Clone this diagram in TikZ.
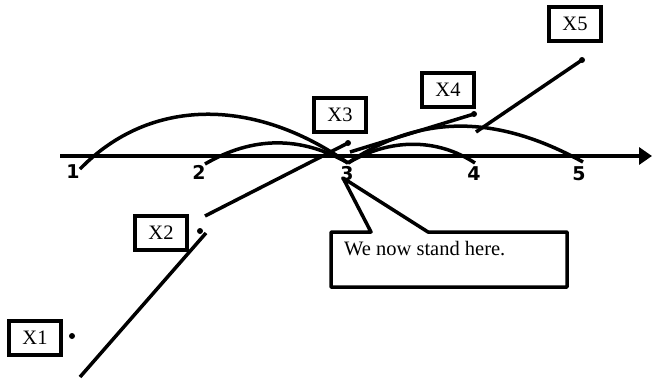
\documentclass[tikz,border=0pt]{standalone}
\usepackage{fontspec}
\setmainfont{Liberation Serif}
\newfontfamily\ticksans{DejaVu Sans}
\usetikzlibrary{arrows.meta}
\begin{document}
\begin{tikzpicture}[x=1pt,y=-1pt,
  lbox/.style={draw,line width=4pt,minimum width=52pt,minimum height=34pt,inner sep=0pt,font=\fontsize{20.5}{20.5}\selectfont},
  tick/.style={font=\ticksans\bfseries\fontsize{19}{19}\selectfont,inner sep=0pt},
  curve/.style={line width=3.5pt},
  seg/.style={line width=3.5pt},
  pt/.style={circle,fill,inner sep=0pt,minimum size=6pt}]
\useasboundingbox (0,0) rectangle (652,381);
% axis
\coordinate (a0) at (60,156);
\coordinate (a1) at (652,156);
\draw[line width=3.5pt,-{Triangle[length=13pt,width=17pt]}] (a0) -- (a1);
% tick labels
\node[tick] (t1) at (73,172) {1};
\node[tick] (t2) at (199,172) {2};
\node[tick] (t3) at (347,174) {3};
\node[tick] (t4) at (474,174) {4};
\node[tick] (t5) at (579,174) {5};
% curves
\coordinate (c1) at (80,169);
\coordinate (c2) at (205,164);
\coordinate (c3) at (348,163);
\coordinate (c4) at (475,163);
\coordinate (c5) at (583,162);
\draw[curve] (c1) .. controls (150,97) and (254,97) .. (c3);
\draw[curve] (c2) .. controls (253,136) and (301,136) .. (c3);
\draw[curve] (c3) .. controls (390,138) and (437,138) .. (c4);
\draw[curve] (c3) .. controls (420,114) and (496,114) .. (c5);
% boxes
\node[lbox] (x1) at (35,338) {X1};
\node[lbox] (x2) at (161,233) {X2};
\node[lbox] (x3) at (340,115) {X3};
\node[lbox] (x4) at (448,90) {X4};
\node[lbox] (x5) at (575,24) {X5};
% dots
\node[pt] (d1) at (72,336) {};
\node[pt] (d2) at (200,231) {};
\node[pt] (d3) at (348,143) {};
\node[pt] (d4) at (474,114) {};
\node[pt] (d5) at (582,60) {};
% segments
\coordinate (s1) at (80,377);
\coordinate (s1e) at (206,233);
\draw[seg] (s1) -- (s1e);
\coordinate (s2) at (205,216);
\draw[seg] (s2) -- (d3.center);
\coordinate (s3) at (350,152);
\draw[seg] (s3) -- (d4.center);
\coordinate (s4) at (476,132);
\draw[seg] (s4) -- (d5.center);
% callout
\coordinate (tip) at (343,178);
\draw[line width=3.5pt,line join=round] (331,232) -- (371,232) -- (tip) -- (428,232) -- (567,232) -- (567,287) -- (331,287) -- cycle;
\node[anchor=base west,inner sep=0pt,font=\fontsize{20.5}{20.5}\selectfont] (call) at (344,255) {We now stand here.};
\end{tikzpicture}
\end{document}
